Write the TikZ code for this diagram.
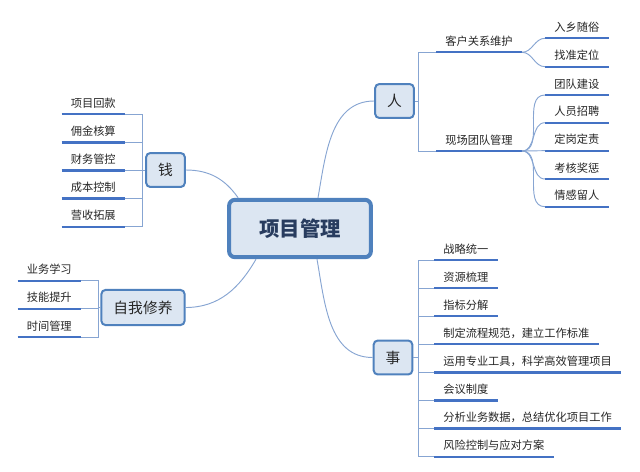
\documentclass[tikz,border=0pt]{standalone}
\usepackage{fontspec}
\setmainfont{Noto Sans CJK SC}
\usepackage{tikz}
\usetikzlibrary{calc,positioning}
\definecolor{edge}{RGB}{79,129,189}
\definecolor{boxfill}{RGB}{220,230,242}
\definecolor{uln}{RGB}{68,114,196}
\definecolor{lnk}{RGB}{135,165,210}
\definecolor{ink}{RGB}{40,60,95}

\begin{document}
\begin{tikzpicture}[x=0.03cm,y=-0.03cm,
  topic/.style={draw=edge,line width=1.7pt,fill=boxfill,rounded corners=3.5pt,minimum width=33pt,minimum height=29pt,inner xsep=6pt,text=black!85,font=\fontsize{12.6}{14}\selectfont},
  leaf/.style={inner xsep=7.7pt,inner ysep=4.5pt,text height=8.3pt,text depth=1.2pt,text=black!85,font=\fontsize{9.6}{11}\selectfont},
  uline/.style={uln,line width=2pt},
  link/.style={lnk,line width=0.8pt}]
  \useasboundingbox (0,0) rectangle (640,471);
  % main topics
  \node[topic,line width=3.4pt,rounded corners=5pt,minimum width=121pt,minimum height=49pt,text=ink,font=\fontsize{17.4}{20}\selectfont\bfseries] (root) at (300,228.5) {项目管理};
  \node[topic] (ren) at (394.5,101) {人};
  \node[topic] (qian) at (165.5,170) {钱};
  \node[topic,minimum width=71pt,minimum height=30pt] (ziwo) at (143,307.5) {自我修养};
  \node[topic] (shi) at (393,357.5) {事};
  \draw[link] (qian.east) to[out=0,in=125] ($(root.north west)+(11,0)$);
  \draw[link] ($(root.north)+(18,0)$) to[out=80,in=180] (ren.west);
  \draw[link] ($(root.south)+(-44,0)$) to[out=240,in=0] (ziwo.east);
  \draw[link] ($(root.south)+(17,0)$) to[out=-80,in=180] (shi.west);
  % 钱
  \foreach \l [count=\k] in {项目回款,佣金核算,财务管控,成本控制,营收拓展} {
    \node[leaf,anchor=south east] (q\k) at (125,114.3+28.1*\k-28.1) {\l};
    \draw[uline] (q\k.south west) -- (q\k.south east);
    \draw[link] (qian.west) -- ++(-3,0) |- (q\k.south east); }
  % 自我修养
  \foreach \l [count=\k] in {业务学习,技能提升,时间管理} {
    \node[leaf,anchor=south east] (z\k) at (81,280.7+28.2*\k-28.2) {\l};
    \draw[uline] (z\k.south west) -- (z\k.south east);
    \draw[link] (ziwo.west) -- ++(-2,0) |- (z\k.south east); }
  % 人
  \node[leaf,anchor=south west] (kh) at (436,52.3) {客户关系维护};
  \node[leaf,anchor=south west] (xc) at (436,151) {现场团队管理};
  \foreach \n in {kh,xc} {
    \draw[uline] (\n.south west) -- (\n.south east);
    \draw[link] (ren.east) -- ++(4,0) |- (\n.south west); }
  \foreach \y/\l/\p [count=\k] in {38.3/入乡随俗/kh,66.7/找准定位/kh,95/团队建设/xc,122.7/人员招聘/xc,150.7/定岗定责/xc,179/考核奖惩/xc,206.7/情感留人/xc} {
    \node[leaf,anchor=south west] (g\k) at (545,\y) {\l};
    \draw[uline] (g\k.south west) -- (g\k.south east);
    \draw[link] (\p.south east) to[out=0,in=180] (g\k.south west); }
  % 事
  \foreach \l [count=\k] in {战略统一,资源梳理,指标分解,制定流程规范，建立工作标准,运用专业工具，科学高效管理项目,会议制度,分析业务数据，总结优化项目工作,风险控制与应对方案} {
    \node[leaf,anchor=south west] (s\k) at (434,260+28.1*\k-28.1) {\l};
    \draw[uline] (s\k.south west) -- (s\k.south east);
    \draw[link] (shi.east) -- ++(5,0) |- (s\k.south west); }
\end{tikzpicture}
\end{document}
